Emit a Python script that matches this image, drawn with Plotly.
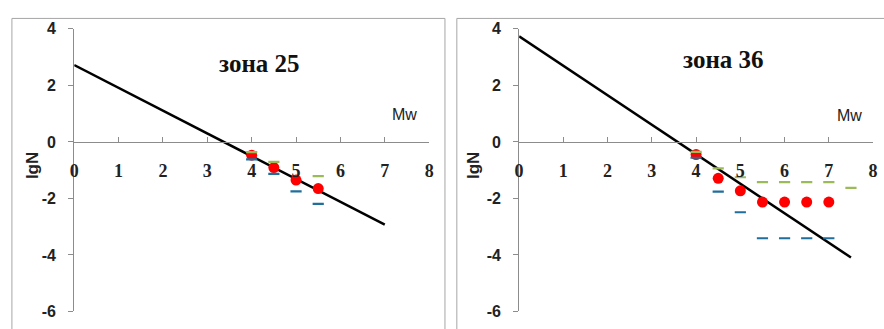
import plotly.graph_objects as go

# ---- data ----
# зона 25
m25 = [4, 4.5, 5, 5.5]
obs25 = [-0.47, -0.91, -1.35, -1.65]
up25_m = [4, 4.5, 5.5]
up25 = [-0.36, -0.71, -1.21]
lo25 = [-0.62, -1.13, -1.75, -2.19]
fit25_m = [0, 7]
fit25 = [2.72, -2.93]

# зона 36
m36 = [4, 4.5, 5, 5.5, 6, 6.5, 7]
obs36 = [-0.45, -1.29, -1.73, -2.13, -2.13, -2.13, -2.13]
up36_m = [4, 4.5, 5, 5.5, 6, 6.5, 7, 7.5]
up36 = [-0.35, -0.94, -1.25, -1.42, -1.42, -1.42, -1.42, -1.63]
lo36 = [-0.56, -1.76, -2.49, -3.41, -3.41, -3.41, -3.41]
fit36_m = [0, 7.5]
fit36 = [3.74, -4.09]

x_ticks = [0, 1, 2, 3, 4, 5, 6, 7, 8]
y_ticks = [-6, -4, -2, 0, 2, 4]
y_tick_text = ['-6', '-4', '-2', '0', '2', '4']

W, H = 884, 329
GREEN = '#9bbb59'
BLUE = '#1f6e9c'
RED = '#ff0000'
GRID = '#8c8c8c'


def px_x(p):
    return p / W


def px_y(p):
    return (H - p) / H


panels = [
    dict(name='зона 25', m=m25, obs=obs25, up_m=up25_m, up=up25, lo=lo25,
         fit_m=fit25_m, fit=fit25, x0=70, x1=429),
    dict(name='зона 36', m=m36, obs=obs36, up_m=up36_m, up=up36, lo=lo36,
         fit_m=fit36_m, fit=fit36, x0=520, x1=878),
]

y_dom = [px_y(320), px_y(22)]
zero_pos = y_dom[0] + 0.6 * (y_dom[1] - y_dom[0])

fig = go.Figure()
for i, p in enumerate(panels):
    xa = 'x' if i == 0 else 'x2'
    ya = 'y' if i == 0 else 'y2'
    fig.add_trace(go.Scatter(x=p['fit_m'], y=p['fit'], mode='lines',
                             line=dict(color='black', width=2.5), xaxis=xa, yaxis=ya))
    fig.add_trace(go.Scatter(x=p['m'], y=p['obs'], mode='markers',
                             marker=dict(symbol='circle', size=11, color=RED),
                             xaxis=xa, yaxis=ya))
    fig.add_trace(go.Scatter(x=p['up_m'], y=p['up'], mode='markers',
                             marker=dict(symbol='line-ew', size=8, line=dict(color=GREEN, width=2.2)),
                             xaxis=xa, yaxis=ya))
    fig.add_trace(go.Scatter(x=p['m'], y=p['lo'], mode='markers',
                             marker=dict(symbol='line-ew', size=8, line=dict(color=BLUE, width=2.2)),
                             xaxis=xa, yaxis=ya))

    sfx = '' if i == 0 else '2'
    fig.layout['xaxis' + sfx] = dict(
        domain=[px_x(p['x0']), px_x(p['x1'])], range=[0, 8], anchor='free', position=zero_pos,
        tickvals=x_ticks, ticks='inside', ticklen=5, tickcolor=GRID,
        showline=True, linecolor=GRID, linewidth=1, showgrid=False, zeroline=False,
        ticklabelstandoff=12,
        tickfont=dict(family='Liberation Serif', size=18, color='#222222', weight='bold'))
    fig.layout['yaxis' + sfx] = dict(
        domain=y_dom, range=[-6, 4], anchor='x' + sfx,
        tickvals=y_ticks, ticktext=y_tick_text, ticks='outside', ticklen=5, tickcolor=GRID,
        showline=True, linecolor=GRID, linewidth=1, showgrid=False, zeroline=False,
        ticklabelstandoff=9,
        tickfont=dict(family='Liberation Sans', size=16, color='#222222', weight='bold'))

# frames, titles, axis names
fig.add_shape(type='rect', xref='paper', yref='paper', x0=px_x(7), x1=px_x(445),
              y0=-0.1, y1=px_y(11), line=dict(color='#a6a6a6', width=1))
fig.add_shape(type='rect', xref='paper', yref='paper', x0=px_x(457), x1=1.1,
              y0=-0.1, y1=px_y(11), line=dict(color='#a6a6a6', width=1))

for p, tx, ty, mx, my, lx in [(panels[0], 257, 59, 404, 112, 28),
                              (panels[1], 727, 54, 854, 113, 474)]:
    fig.add_annotation(text=p['name'], xref='paper', yref='paper', x=px_x(tx), y=px_y(ty),
                       xanchor='center', yanchor='middle', showarrow=False,
                       font=dict(family='Liberation Serif', size=25, color='#111111', weight='bold'))
    fig.add_annotation(text='Mw', xref='paper', yref='paper', x=px_x(mx), y=px_y(my),
                       xanchor='center', yanchor='middle', showarrow=False,
                       font=dict(family='Liberation Sans', size=16, color='#222222'))
    fig.add_annotation(text='lgN', xref='paper', yref='paper', x=px_x(lx), y=px_y(166),
                       xanchor='center', yanchor='middle', textangle=-90, showarrow=False,
                       font=dict(family='Liberation Sans', size=17, color='#222222', weight='bold'))

fig.update_layout(width=W, height=H, margin=dict(l=0, r=0, t=0, b=0),
                  paper_bgcolor='white', plot_bgcolor='white', showlegend=False)

fig.write_html("out.html", config=dict(displayModeBar=False),
               post_script="document.body.style.margin='0';")
